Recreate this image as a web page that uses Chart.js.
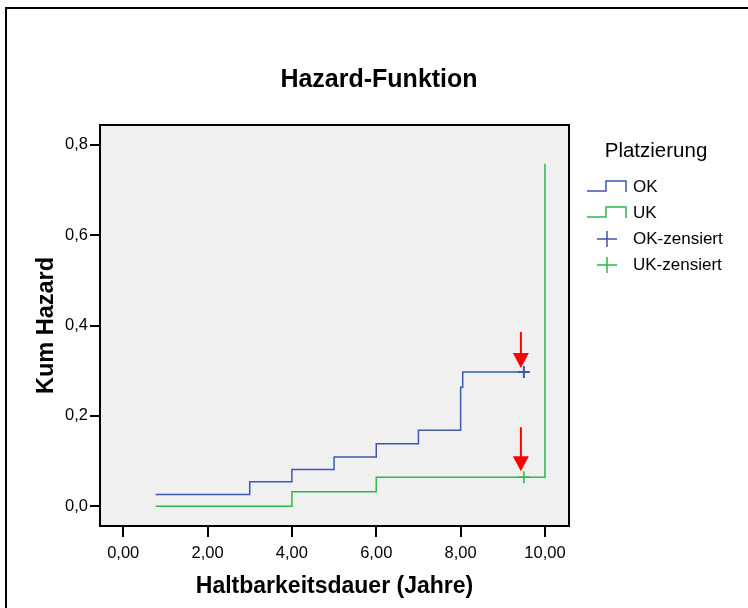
<!DOCTYPE html>
<html>
<head>
<meta charset="utf-8">
<script src="https://cdn.jsdelivr.net/npm/chart.js@4/dist/chart.umd.min.js"></script>
<style>
  html, body { margin: 0; padding: 0; background: #ffffff; }
  canvas { display: block; }
</style>
</head>
<body>
<canvas id="hazard" width="748" height="608"></canvas>
<script>
// Kumulative Hazard-Funktion nach Platzierung (OK / UK)
const okTimes  = [0.77, 3.0, 4.0, 5.0, 6.0, 7.0, 8.0, 8.05, 9.5];
const okHazard = [0.026, 0.054, 0.081, 0.109, 0.138, 0.168, 0.263, 0.297, 0.297];
const ukTimes  = [0.77, 4.0, 6.0, 10.0];
const ukHazard = [0.0, 0.032, 0.064, 0.758];
const okCensoredTimes  = [9.5];
const okCensoredHazard = [0.297];
const ukCensoredTimes  = [9.5];
const ukCensoredHazard = [0.064];
const seriesLabels = ['OK', 'UK', 'OK-zensiert', 'UK-zensiert'];
const xTickValues = [0, 2, 4, 6, 8, 10];
const yTickValues = [0, 0.2, 0.4, 0.6, 0.8];

const FONT = '"Liberation Sans", Arial, Helvetica, sans-serif';
const OK_BLUE = '#3e58ac';
const UK_GREEN = '#2eb848';

Chart.defaults.font.family = FONT;
Chart.defaults.color = '#000000';

const toPoints = (xs, ys) => xs.map((x, i) => ({ x: x, y: ys[i] }));
const comma = (v, d) => v.toFixed(d).replace('.', ',');

// Grey plot panel, its black frame and the outer page border
const plotFrame = {
  id: 'plotFrame',
  beforeDraw(chart) {
    const { ctx, chartArea: a } = chart;
    ctx.save();
    ctx.fillStyle = '#ffffff';
    ctx.fillRect(0, 0, chart.width, chart.height);
    ctx.fillStyle = '#000000';
    ctx.fillRect(5, 7, chart.width, 2);
    ctx.fillRect(5, 7, 2, chart.height);
    ctx.fillStyle = '#f0f0f0';
    ctx.fillRect(a.left, a.top, a.right - a.left, a.bottom - a.top);
    ctx.restore();
  },
  afterDraw(chart) {
    const { ctx, chartArea: a } = chart;
    ctx.save();
    ctx.strokeStyle = '#000000';
    ctx.lineWidth = 2;
    ctx.strokeRect(a.left, a.top, a.right - a.left, a.bottom - a.top);
    ctx.restore();
  }
};

// Red arrows pointing down at the censored observations
const censorArrows = {
  id: 'censorArrows',
  afterDraw(chart, args, opts) {
    const ctx = chart.ctx;
    ctx.save();
    ctx.strokeStyle = opts.color;
    ctx.fillStyle = opts.color;
    opts.items.forEach(item => {
      const pt = chart.getDatasetMeta(item.dataset).data[0];
      if (!pt) return;
      const cx = pt.x + opts.dx;
      const tip = pt.y - item.gap;
      const headTop = tip - opts.head;
      ctx.lineWidth = 2;
      ctx.beginPath();
      ctx.moveTo(cx, headTop - item.shaft);
      ctx.lineTo(cx, headTop + 1);
      ctx.stroke();
      ctx.beginPath();
      ctx.moveTo(cx - opts.halfWidth, headTop);
      ctx.lineTo(cx + opts.halfWidth, headTop);
      ctx.lineTo(cx, tip);
      ctx.closePath();
      ctx.fill();
    });
    ctx.restore();
  }
};

// Legend panel on the right, laid out as its own layout box
const platzLegend = {
  id: 'platzLegend',
  beforeInit(chart, args, opts) {
    const box = {
      position: 'right',
      weight: 20,
      fullSize: false,
      options: {},
      left: 0, top: 0, right: 0, bottom: 0, width: 0, height: 0,
      isHorizontal() { return false; },
      update(maxWidth, maxHeight) {
        this.width = opts.width;
        this.height = maxHeight;
      },
      draw() {
        const ctx = chart.ctx;
        const L = this.left, T = this.top;
        ctx.save();
        ctx.fillStyle = '#000000';
        ctx.textBaseline = 'middle';
        ctx.textAlign = 'center';
        ctx.font = opts.titleSize + 'px ' + FONT;
        ctx.fillText(opts.title, L + opts.titleX, T + opts.titleY);
        ctx.textAlign = 'left';
        ctx.font = opts.labelSize + 'px ' + FONT;
        chart.data.datasets.forEach((ds, i) => {
          const y = T + opts.firstRow + i * opts.rowGap;
          const x0 = L + opts.symbolX;
          ctx.strokeStyle = ds.borderColor;
          ctx.lineWidth = 1.5;
          ctx.beginPath();
          if (ds.stepped) {
            ctx.moveTo(x0, y + 4);
            ctx.lineTo(x0 + 19, y + 4);
            ctx.lineTo(x0 + 19, y - 6);
            ctx.lineTo(x0 + 39, y - 6);
            ctx.lineTo(x0 + 39, y + 5);
          } else {
            const cx = x0 + 20;
            ctx.moveTo(cx - 10, y);
            ctx.lineTo(cx + 10, y);
            ctx.moveTo(cx, y - 8);
            ctx.lineTo(cx, y + 8);
          }
          ctx.stroke();
          ctx.fillText(ds.label, L + opts.textX, y);
        });
        ctx.restore();
      }
    };
    Chart.layouts.addBox(chart, box);
  }
};

new Chart(document.getElementById('hazard'), {
  type: 'line',
  data: {
    datasets: [
      {
        label: seriesLabels[0],
        data: toPoints(okTimes, okHazard),
        borderColor: OK_BLUE,
        borderWidth: 1.5,
        stepped: 'before',
        pointRadius: 0,
        fill: false
      },
      {
        label: seriesLabels[1],
        data: toPoints(ukTimes, ukHazard),
        borderColor: UK_GREEN,
        borderWidth: 1.5,
        stepped: 'before',
        pointRadius: 0,
        fill: false
      },
      {
        label: seriesLabels[2],
        data: toPoints(okCensoredTimes, okCensoredHazard),
        showLine: false,
        borderColor: OK_BLUE,
        backgroundColor: OK_BLUE,
        pointStyle: 'cross',
        pointRadius: 6,
        pointBorderWidth: 2
      },
      {
        label: seriesLabels[3],
        data: toPoints(ukCensoredTimes, ukCensoredHazard),
        showLine: false,
        borderColor: UK_GREEN,
        backgroundColor: UK_GREEN,
        pointStyle: 'cross',
        pointRadius: 6,
        pointBorderWidth: 1.5
      }
    ]
  },
  options: {
    responsive: false,
    animation: false,
    devicePixelRatio: 1,
    events: [],
    layout: { padding: { left: 10, right: 0, top: 0, bottom: 0 } },
    plugins: {
      legend: { display: false },
      tooltip: { enabled: false },
      title: {
        display: true,
        text: 'Hazard-Funktion',
        color: '#000000',
        font: { size: 25, weight: 'bold', lineHeight: 1.2 },
        padding: { top: 65, bottom: 30 }
      },
      platzLegend: {
        width: 179,
        title: 'Platzierung',
        titleSize: 20.5,
        titleX: 87,
        titleY: 26,
        labelSize: 17,
        symbolX: 18,
        textX: 64,
        firstRow: 62,
        rowGap: 26
      },
      censorArrows: {
        color: '#ff0000',
        dx: -3,
        head: 15,
        halfWidth: 8,
        items: [
          { dataset: 2, gap: 4, shaft: 21 },
          { dataset: 3, gap: 6, shaft: 29 }
        ]
      }
    },
    scales: {
      x: {
        type: 'linear',
        min: -0.55,
        max: 10.57,
        afterFit(scale) { scale.height = 82; },
        afterBuildTicks(scale) { scale.ticks = xTickValues.map(v => ({ value: v })); },
        border: { display: false },
        grid: {
          drawOnChartArea: false,
          drawTicks: true,
          tickLength: 11,
          lineWidth: 2,
          color: '#000000'
        },
        ticks: {
          padding: 6.2,
          maxRotation: 0,
          autoSkip: false,
          color: '#000000',
          font: { size: 16.5 },
          callback: v => comma(v, 2)
        },
        title: {
          display: true,
          text: 'Haltbarkeitsdauer (Jahre)',
          color: '#000000',
          font: { size: 23, weight: 'bold', lineHeight: 1.2 },
          padding: { top: 0, bottom: 7.7 }
        }
      },
      y: {
        type: 'linear',
        min: -0.044,
        max: 0.844,
        afterFit(scale) { scale.width = 90; },
        afterBuildTicks(scale) { scale.ticks = yTickValues.map(v => ({ value: v })); },
        border: { display: false },
        grid: {
          drawOnChartArea: false,
          drawTicks: true,
          tickLength: 10,
          lineWidth: 2,
          color: '#000000'
        },
        ticks: {
          padding: 2,
          autoSkip: false,
          color: '#000000',
          font: { size: 16.5 },
          callback: v => comma(v, 1)
        },
        title: {
          display: true,
          text: 'Kum Hazard',
          color: '#000000',
          font: { size: 23.5, weight: 'bold', lineHeight: 1.2 },
          padding: { top: 22.4, bottom: 0 }
        }
      }
    }
  },
  plugins: [plotFrame, censorArrows, platzLegend]
});
</script>
</body>
</html>
